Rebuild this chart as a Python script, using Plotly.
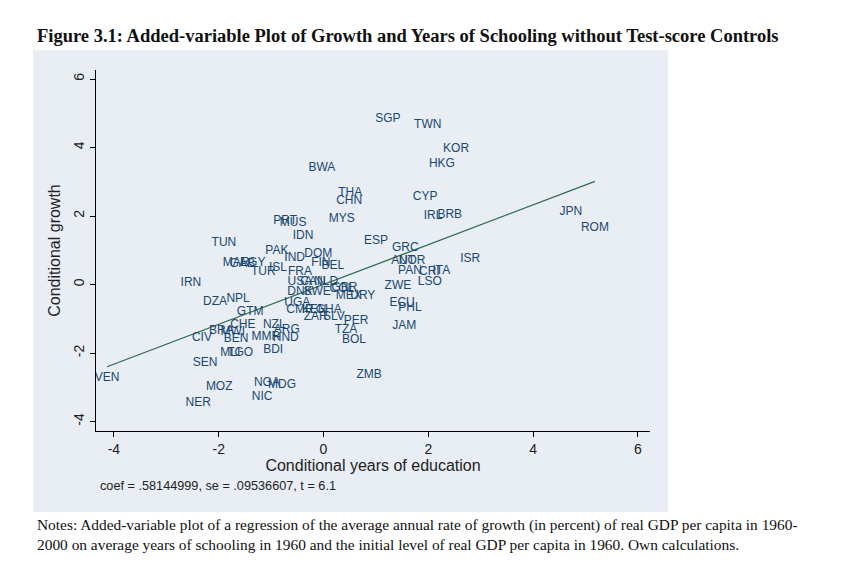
import plotly.graph_objects as go

# Country labels and their added-variable coordinates (x: conditional years of education, y: conditional growth)
countries = ["SGP","TWN","KOR","HKG","BWA","THA","CHN","CYP","IRL","BRB","JPN","ROM",
             "MYS","PRT","MUS","IDN","TUN","ESP","GRC","AUT","NOR","ISR","PAN","CRI","ITA","LSO",
             "ZWE","ECU","PHL","JAM","PER","TZA","BOL","ZMB","IRN","DZA","NPL","GTM","MOZ","NER",
             "SEN","VEN","NGA","MDG","NIC","BDI","MLI","TGO","CIV","BEN","BRA","MWI","CHE","NZL",
             "ARG","MMR","HND","PAK","IND","DOM","BEL","FIN","MAR","GAB","EGY","ISL","TUR","FRA",
             "USA","CAN","NLD","DNK","SWE","COL","GBR","MEX","URY","UGA","CMR","KEN","GHA","ZAR","SLV"]
x_edu = [1.23,1.99,2.53,2.26,-0.03,0.51,0.49,1.94,2.09,2.41,4.72,5.18,
         0.35,-0.73,-0.58,-0.39,-1.90,1.00,1.56,1.52,1.69,2.80,1.65,2.02,2.25,2.03,
         1.42,1.50,1.65,1.54,0.62,0.43,0.58,0.87,-2.53,-2.07,-1.63,-1.40,-1.99,-2.39,
         -2.26,-4.13,-1.08,-0.79,-1.17,-0.96,-1.78,-1.59,-2.32,-1.67,-1.95,-1.73,-1.54,-0.94,
         -0.70,-1.10,-0.72,-0.89,-0.55,-0.10,0.18,-0.05,-1.67,-1.55,-1.35,-0.87,-1.15,-0.45,
         -0.45,-0.20,0.05,-0.45,-0.12,0.35,0.40,0.48,0.75,-0.50,-0.45,-0.18,0.10,-0.15,0.20]
y_growth = [4.83,4.66,3.95,3.52,3.40,2.67,2.44,2.55,2.00,2.03,2.12,1.65,
            1.91,1.85,1.80,1.41,1.21,1.27,1.06,0.70,0.70,0.74,0.39,0.37,0.40,0.07,
            -0.04,-0.54,-0.69,-1.21,-1.07,-1.33,-1.62,-2.64,0.04,-0.51,-0.42,-0.80,-2.99,-3.46,
            -2.29,-2.73,-2.87,-2.93,-3.28,-1.91,-2.00,-2.00,-1.56,-1.59,-1.37,-1.40,-1.19,-1.19,
            -1.33,-1.53,-1.56,0.98,0.78,0.88,0.55,0.62,0.63,0.60,0.63,0.48,0.36,0.36,
            0.06,0.06,0.08,-0.22,-0.22,-0.12,-0.10,-0.35,-0.35,-0.54,-0.74,-0.74,-0.74,-0.95,-0.95]

coef = 0.58144999
x_ticks = [-4, -2, 0, 2, 4, 6]
y_ticks = [-4, -2, 0, 2, 4, 6]

navy = "#1a476f"
xmin, xmax = min(x_edu), max(x_edu)

fig = go.Figure()
fig.add_trace(go.Scatter(x=[xmin, xmax], y=[coef * xmin, coef * xmax], mode="lines",
                         line=dict(color="#2f6b4f", width=1.3), hoverinfo="skip"))
fig.add_trace(go.Scatter(x=x_edu, y=y_growth, mode="text", text=countries,
                         textposition="middle center",
                         textfont=dict(family="Liberation Sans, Arial", size=12, color=navy)))

L, R, T, B = 96, 650, 70, 431
W, H = 867, 568
def px(x):
    return (x - L) / (R - L)
def py(y):
    return (B - y) / (B - T)

fig.update_layout(
    width=W, height=H,
    margin=dict(l=L, r=W - R, t=T, b=H - B, pad=0),
    paper_bgcolor="white", plot_bgcolor="white",
    showlegend=False,
    font=dict(family="Liberation Sans, Arial", color="#222"),
    shapes=[dict(type="rect", xref="paper", yref="paper", layer="below",
                 x0=px(33), x1=px(668), y0=py(512), y1=py(50),
                 fillcolor="#e8eef4", line=dict(width=0))],
    annotations=[
        dict(text="<b>Figure 3.1: Added-variable Plot of Growth and Years of Schooling without Test-score Controls</b>",
             xref="paper", yref="paper", x=px(35), y=py(36), xanchor="left", yanchor="middle",
             showarrow=False, font=dict(family="Liberation Serif, Times New Roman", size=18.5, color="#111")),
        dict(text="coef = .58144999, se = .09536607, t = 6.1",
             xref="paper", yref="paper", x=px(98), y=py(486), xanchor="left", yanchor="middle",
             showarrow=False, font=dict(family="Liberation Sans, Arial", size=12.7, color="#222")),
        dict(text="Notes: Added-variable plot of a regression of the average annual rate of growth (in percent) of real GDP per capita in 1960-",
             xref="paper", yref="paper", x=px(35), y=py(525), xanchor="left", yanchor="middle",
             showarrow=False, font=dict(family="Liberation Serif, Times New Roman", size=15.4, color="#111")),
        dict(text="2000 on average years of schooling in 1960 and the initial level of real GDP per capita in 1960. Own calculations.",
             xref="paper", yref="paper", x=px(35), y=py(544), xanchor="left", yanchor="middle",
             showarrow=False, font=dict(family="Liberation Serif, Times New Roman", size=15.4, color="#111")),
    ],
    xaxis=dict(range=[(L - 323.5) / 52.4, (R - 323.5) / 52.4], tickvals=x_ticks,
               ticktext=[str(v) for v in x_ticks],
               showgrid=False, zeroline=False, showline=True, linecolor="black", linewidth=1,
               ticks="outside", ticklen=5, tickcolor="black",
               tickfont=dict(size=14, color="#222"),
               title=dict(text="Conditional years of education", font=dict(size=16, color="#222"), standoff=3)),
    yaxis=dict(range=[(284.5 - B) / 34.25, (284.5 - T) / 34.25], tickvals=y_ticks,
               ticktext=[str(v) for v in y_ticks], tickangle=-90,
               showgrid=True, gridcolor="#e6edf2", gridwidth=1, zeroline=False,
               showline=True, linecolor="black", linewidth=1,
               ticks="outside", ticklen=5, tickcolor="black",
               tickfont=dict(size=14, color="#222"),
               title=dict(text="Conditional growth", font=dict(size=16, color="#222"), standoff=6)),
)

fig.write_html("out.html")
